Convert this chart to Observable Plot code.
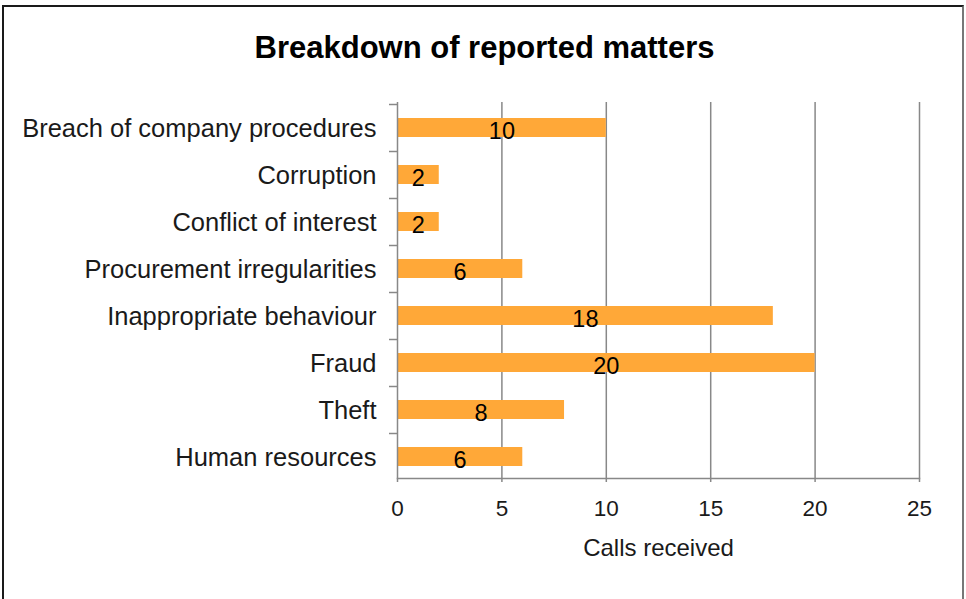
<!DOCTYPE html>
<html>
<head>
<meta charset="utf-8">
<script src="https://cdn.jsdelivr.net/npm/d3@7"></script>
<script src="https://cdn.jsdelivr.net/npm/@observablehq/plot@0.6"></script>
<style>
  html, body { margin: 0; padding: 0; background: #fff; }
  #wrap { position: relative; width: 966px; height: 599px; overflow: hidden; font-family: "Liberation Sans", Arial, sans-serif; }
  #border { position: absolute; left: 2px; top: 5px; width: 958px; height: 700px; border: 2px solid #1a1a1a; border-right-color: #777; }
  #title { position: absolute; left: 0; top: 30px; width: 969px; text-align: center; font-size: 31px; font-weight: bold; color: #000; }
  #chart { position: absolute; left: 0; top: 0; }
</style>
</head>
<body>
<div id="wrap">
  <div id="border"></div>
  <div id="title">Breakdown of reported matters</div>
  <div id="chart"></div>
</div>
<script>
const categories = [
  "Breach of company procedures",
  "Corruption",
  "Conflict of interest",
  "Procurement irregularities",
  "Inappropriate behaviour",
  "Fraud",
  "Theft",
  "Human resources"
];
const values = [10, 2, 2, 6, 18, 20, 8, 6];
const xTicks = [0, 5, 10, 15, 20, 25];
const xLabel = "Calls received";

const data = categories.map((c, i) => ({category: c, value: values[i]}));

const chart = Plot.plot({
  width: 966,
  height: 599,
  marginLeft: 397,
  marginRight: 47,
  marginTop: 102,
  marginBottom: 121,
  style: {fontFamily: "'Liberation Sans', Arial, sans-serif", background: "transparent", overflow: "visible"},
  x: {domain: [0, 25], ticks: xTicks},
  y: {domain: categories, paddingInner: 0.6, paddingOuter: 0.3, align: 0.55},
  marks: [
    Plot.gridX(xTicks.slice(1), {stroke: "#888", strokeOpacity: 1, strokeWidth: 1.5}),
    Plot.barX(data, {x: "value", y: "category", fill: "#ffa838"}),
    Plot.ruleX([0], {stroke: "#888", strokeWidth: 1.5}),
    Plot.frame({anchor: "bottom", stroke: "#888", strokeWidth: 1.5}),
    Plot.axisY({fill: "none", stroke: "#888", strokeWidth: 1.5, tickSize: 8, dy: -23.5, label: null}),
    Plot.axisY({tickSize: 0, tickPadding: 21, fontSize: 25.5, fill: "#1a1a1a", label: null, dy: 1}),
    Plot.axisX({ticks: xTicks, tickSize: 4, stroke: "#888", strokeWidth: 1.5, tickPadding: 18, fontSize: 22.5, fill: "#1a1a1a", label: null}),
    Plot.axisX({ticks: [], tickSize: 0, fontSize: 24, fill: "#1a1a1a",
      label: xLabel, labelAnchor: "center", labelArrow: "none", labelOffset: 77}),
    Plot.text(data, {x: d => d.value / 2, y: "category", text: "value", fontSize: 23.5, fill: "#000", dy: 3})
  ]
});
document.getElementById("chart").appendChild(chart);
</script>
</body>
</html>
